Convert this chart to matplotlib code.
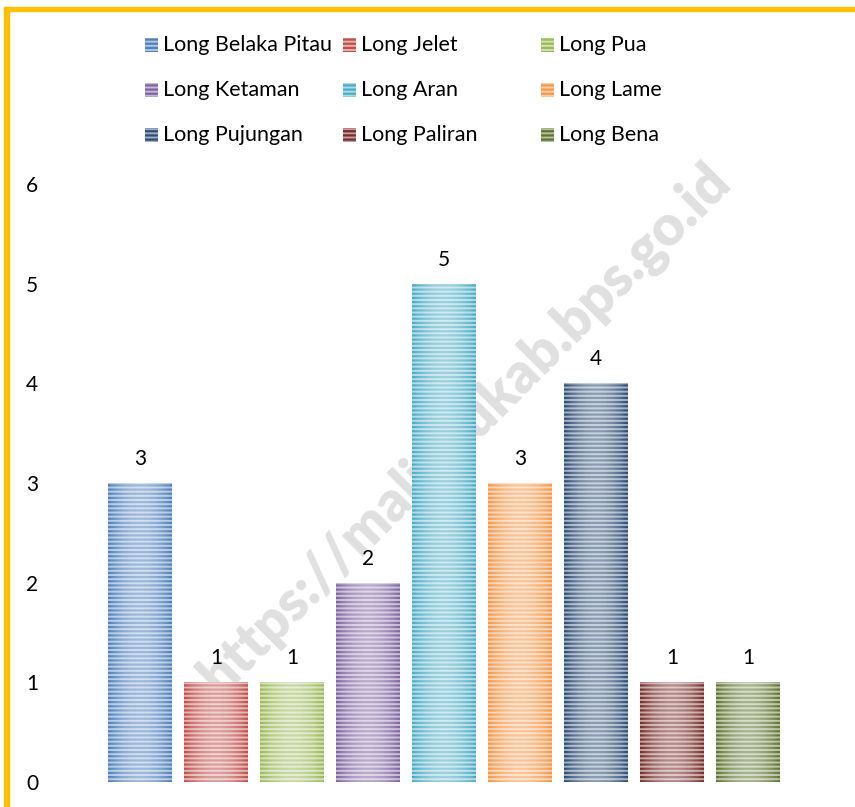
import numpy as np
import matplotlib.pyplot as plt
from matplotlib.patches import Rectangle
from matplotlib.colors import to_rgb

plt.rcParams['font.family'] = ['Lato', 'DejaVu Sans']
plt.rcParams['hatch.linewidth'] = 1.6

# data
villages = ["Long Belaka Pitau", "Long Jelet", "Long Pua",
            "Long Ketaman", "Long Aran", "Long Lame",
            "Long Pujungan", "Long Paliran", "Long Bena"]
counts = [3, 1, 1, 2, 5, 3, 4, 1, 1]
colors = ["#4F81BD", "#C0504D", "#9BBB59", "#8064A2", "#4BACC6",
          "#F79646", "#2C4D75", "#772C2A", "#5F7530"]
yticks = [0, 1, 2, 3, 4, 5, 6]

W, H = 855, 807


def light(c, f=0.55):
    r, g, b = to_rgb(c)
    return (r + (1 - r) * f, g + (1 - g) * f, b + (1 - b) * f)


fig = plt.figure(figsize=(W / 100, H / 100), dpi=100)
ax = fig.add_axes([102 / W, (H - 782) / H, 684 / W, 598 / H])

# white sheen across each bar, lighter in the middle
prof = np.linspace(-1, 1, 64)
sheen = np.ones((1, 64, 4))
sheen[0, :, 3] = 0.45 * (1 - prof ** 2)

x = np.arange(len(villages))
bw = 0.83
for i in range(len(villages)):
    ax.bar(x[i], counts[i], width=bw, color=light(colors[i]),
           edgecolor=colors[i], linewidth=0, hatch="----", zorder=2)
    ax.imshow(sheen, extent=(x[i] - bw / 2, x[i] + bw / 2, 0, counts[i]),
              aspect="auto", zorder=3, interpolation="bilinear")
    ax.annotate(str(counts[i]), (x[i], counts[i]), xytext=(0, 10),
                textcoords="offset points", ha="center", va="bottom",
                fontsize=15)

ax.set_xlim(-0.5, len(villages) - 0.5)
ax.set_ylim(0, 6)
ax.set_yticks(yticks)
ax.set_xticks([])
ax.tick_params(axis="y", length=0, pad=46, labelsize=15)
ax.patch.set_visible(False)
for s in ax.spines.values():
    s.set_visible(False)

# legend laid out row by row, 3 per row
for k, name in enumerate(villages):
    row, col = divmod(k, 3)
    lx = 145 + col * 198
    ly = 45 + row * 45
    fig.patches.append(Rectangle((lx / W, (H - ly - 7) / H), 13 / W, 14 / H,
                                 transform=fig.transFigure,
                                 facecolor=light(colors[k]),
                                 edgecolor=colors[k], linewidth=0,
                                 hatch="----"))
    fig.text((lx + 18) / W, (H - ly) / H, name, fontsize=15.5,
             va="center", ha="left")

# watermark, behind the bars
ax.text(465 / W, (H - 430) / H, "https://malinaukab.bps.go.id",
        transform=fig.transFigure, rotation=45, fontsize=40,
        fontweight="heavy", color="#e0e0e0",
        ha="center", va="center", zorder=0)

# yellow frame (left and top)
fig.patches.append(Rectangle((4 / W, 0), 5 / W, 1 - 7 / H,
                             transform=fig.transFigure, color="#FFC000"))
fig.patches.append(Rectangle((4 / W, 1 - 11 / H), 1 - 4 / W, 4 / H,
                             transform=fig.transFigure, color="#FFC000"))

fig.savefig("out.png", dpi=100)
